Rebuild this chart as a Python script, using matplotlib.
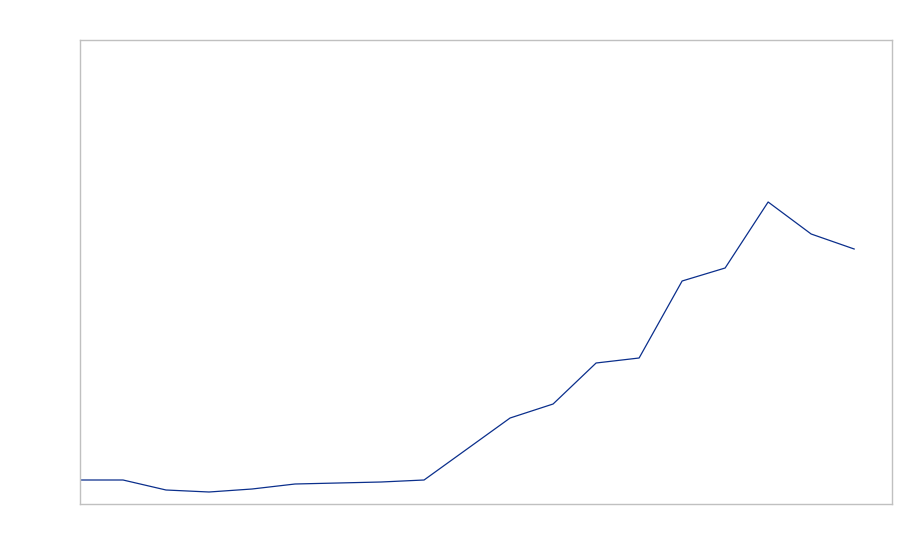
import matplotlib
matplotlib.use("Agg")
import matplotlib.pyplot as plt

# values (arbitrary units, axis has no labels)
periods = list(range(19))
values = [24, 24, 14, 12, 15, 20, 21, 22, 24, 55, 86, 100, 141, 146, 223, 236, 302, 270, 255]

fig = plt.figure(figsize=(9, 5.6), dpi=100)
ax = fig.add_axes([80 / 900, 56 / 560, 812 / 900, 464 / 560])

ax.plot(periods, values, color="#0b2f8c", linewidth=0.9)

ax.set_xlim(0, 18.88)
ax.set_ylim(0, 464)
ax.set_xticks([])
ax.set_yticks([])
for sp in ax.spines.values():
    sp.set_color("#c0c0c0")
    sp.set_linewidth(1)

fig.savefig("out.png", dpi=100)
